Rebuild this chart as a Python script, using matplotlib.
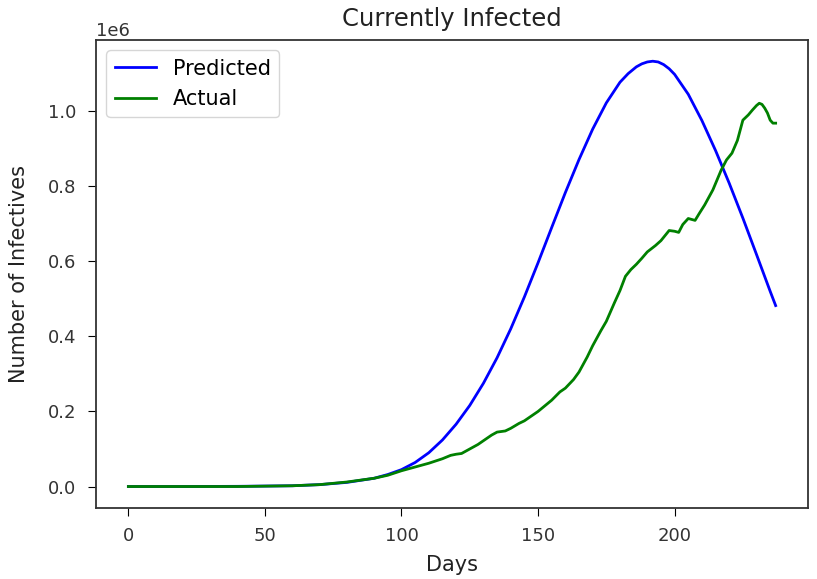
import matplotlib
matplotlib.use("Agg")
import matplotlib.pyplot as plt
import numpy as np

pred_days = [0, 20, 40, 60, 70, 80, 90, 95, 100, 105, 110, 115, 120, 125, 130, 135, 140, 145,
             150, 155, 160, 165, 170, 175, 180, 183, 186, 188, 190, 192, 194, 196, 198, 200,
             205, 210, 215, 220, 225, 230, 235, 237]
pred_vals = [0.0, 0.0, 0.0005, 0.002, 0.005, 0.011, 0.022, 0.032, 0.045, 0.064, 0.09, 0.124,
             0.166, 0.216, 0.275, 0.343, 0.42, 0.505, 0.596, 0.69, 0.783, 0.871, 0.952, 1.022,
             1.077, 1.1, 1.118, 1.126, 1.131, 1.133, 1.131, 1.124, 1.113, 1.098, 1.045, 0.975,
             0.895, 0.808, 0.715, 0.618, 0.52, 0.482]

act_days = [0, 20, 40, 60, 70, 80, 90, 95, 100, 105, 110, 115, 118, 120, 122, 125, 128, 130,
            133, 135, 138, 140, 143, 145, 148, 150, 153, 155, 158, 160, 163, 165, 168, 170,
            173, 175, 178, 180, 182, 184, 186, 188, 190, 193, 195, 198, 200, 201.5, 203, 205,
            207.5, 209, 211, 214, 217, 219, 221, 223, 225, 227, 228.5, 230, 231, 232, 233,
            234, 235, 236, 237]
act_vals = [0.0, 0.0, 0.0, 0.002, 0.005, 0.012, 0.022, 0.03, 0.042, 0.052, 0.062, 0.074,
            0.083, 0.086, 0.088, 0.1, 0.112, 0.122, 0.137, 0.145, 0.148, 0.155, 0.168, 0.175,
            0.19, 0.2, 0.218, 0.23, 0.252, 0.262, 0.285, 0.305, 0.345, 0.375, 0.415, 0.44,
            0.49, 0.522, 0.56, 0.578, 0.592, 0.608, 0.625, 0.642, 0.655, 0.682, 0.68, 0.677,
            0.698, 0.714, 0.709, 0.727, 0.75, 0.79, 0.842, 0.87, 0.888, 0.922, 0.976, 0.99,
            1.003, 1.015, 1.021, 1.018, 1.008, 0.995, 0.976, 0.968, 0.968]

fig = plt.figure(figsize=(8.17, 5.79), dpi=100)
ax = fig.add_axes([0.1175, 0.123, 0.8715, 0.808])
ax.plot(pred_days, np.array(pred_vals) * 1e6, color="blue", lw=2, label="Predicted")
ax.plot(act_days, np.array(act_vals) * 1e6, color="green", lw=2, label="Actual")
ax.set_title("Currently Infected", fontsize=17.5, color="#222222", pad=10)
ax.set_xlabel("Days", fontsize=15, color="#222222", labelpad=7)
ax.set_ylabel("Number of Infectives", fontsize=15, color="#222222", labelpad=14)
ax.tick_params(labelsize=13, labelcolor="#333333", length=6, pad=8)
ax.yaxis.get_offset_text().set_fontsize(13)
for s in ax.spines.values():
    s.set_linewidth(1.3)
    s.set_color("#333333")
ax.legend(loc="upper left", fontsize=15)
fig.savefig("out.png")
